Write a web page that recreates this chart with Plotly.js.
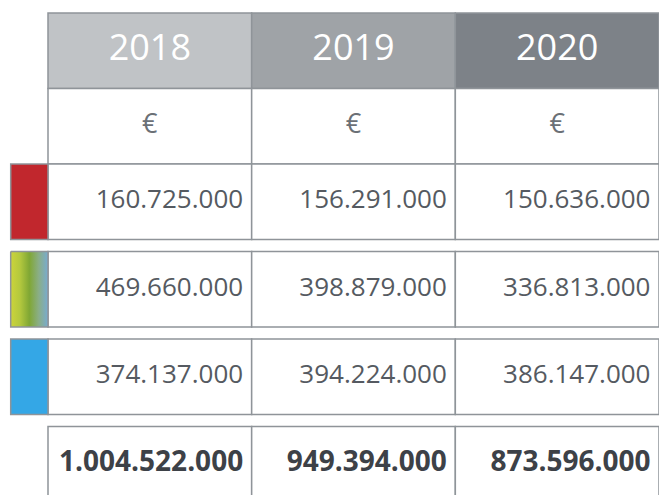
<!DOCTYPE html>
<html><head><meta charset="utf-8">
<script src="https://cdn.plot.ly/plotly-3.0.1.min.js"></script>
<style>html,body{margin:0;padding:0;background:#fff}</style>
</head><body><div id="chart" style="width:659px;height:495px"></div>
<script>
// ---- data ----
const years = ['2018', '2019', '2020'];
const unitLabel = '€';
const redValues = [160725000, 156291000, 150636000];
const greenValues = [469660000, 398879000, 336813000];
const blueValues = [374137000, 394224000, 386147000];
const totalValues = [1004522000, 949394000, 873596000];

// ---- layout / style constants ----
const W = 659, H = 495;
const TABLE_LEFT = 48, SWATCH_LEFT = 10.7;
const ROW_H = 75.5, GAP = 12, TOP = 13;
const COL_W = (W - TABLE_LEFT) / years.length;
const X_MIN = -0.5 - TABLE_LEFT / COL_W;
const PAD = 8.5 / COL_W;
const BORDER = '#8f9499';
const FONT = 'Open Sans, Noto Sans, sans-serif';
const headerFills = ['#c0c3c6', '#9fa3a7', '#7d8288'];
const numColor = '#555a61';

const rowKeys = ['header', 'unit', 'red', 'green', 'blue', 'total'];
const gapBefore = [0, 0, 0, 1, 1, 1];
const tops = {};
let cur = TOP;
rowKeys.forEach((k, i) => { cur += gapBefore[i] * GAP; tops[k] = cur; cur += ROW_H; });
const mid = k => tops[k] + ROW_H / 2;

const fmt = n => String(n).replace(/\B(?=(\d{3})+(?!\d))/g, '.');
const colIdx = years.map((_, i) => i);
const rightX = colIdx.map(i => i + 0.5 - PAD);

const traces = [];
function cellBar(key, fills) {
  traces.push({
    type: 'bar', x: colIdx, y: colIdx.map(() => ROW_H), base: colIdx.map(() => tops[key]),
    width: colIdx.map(() => 1),
    marker: { color: fills, line: { color: BORDER, width: 1.5 } },
    hoverinfo: 'skip', showlegend: false
  });
}
function textRow(key, xs, texts, pos, font) {
  traces.push({
    type: 'scatter', mode: 'text', x: xs, y: xs.map(() => mid(key)), text: texts,
    textposition: pos, textfont: font, hoverinfo: 'skip', showlegend: false, cliponaxis: false
  });
}
cellBar('header', headerFills);
cellBar('unit', colIdx.map(() => '#ffffff'));
cellBar('red', colIdx.map(() => '#ffffff'));
cellBar('green', colIdx.map(() => '#ffffff'));
cellBar('blue', colIdx.map(() => '#ffffff'));
cellBar('total', colIdx.map(() => '#ffffff'));

// swatches
const swL = X_MIN + SWATCH_LEFT / COL_W, swR = -0.5;
function swatchBar(key, color) {
  traces.push({
    type: 'bar', x: [(swL + swR) / 2], y: [ROW_H], base: [tops[key]], width: [swR - swL],
    marker: { color: color, line: { color: BORDER, width: 1.5 } },
    hoverinfo: 'skip', showlegend: false
  });
}
swatchBar('red', '#c1272d');
swatchBar('blue', '#34a7e6');
traces.push({
  type: 'scatter', mode: 'lines',
  x: [swL, swR, swR, swL, swL],
  y: [tops.green, tops.green, tops.green + ROW_H, tops.green + ROW_H, tops.green],
  fill: 'toself',
  fillgradient: { type: 'horizontal', colorscale: [[0, '#ccd43a'], [0.25, '#b3c83e'], [0.5, '#80a734'], [0.75, '#8aae86'], [1, '#78abd0']] },
  line: { color: BORDER, width: 1.5 },
  hoverinfo: 'skip', showlegend: false
});

// texts
textRow('header', colIdx, years, 'middle center', { family: FONT, size: 36, color: '#ffffff' });
textRow('unit', colIdx, colIdx.map(() => unitLabel), 'middle center', { family: FONT, size: 27, color: '#6b7076' });
textRow('red', rightX, redValues.map(fmt), 'middle left', { family: FONT, size: 26, color: numColor });
textRow('green', rightX, greenValues.map(fmt), 'middle left', { family: FONT, size: 26, color: numColor });
textRow('blue', rightX, blueValues.map(fmt), 'middle left', { family: FONT, size: 26, color: numColor });
textRow('total', rightX, totalValues.map(fmt), 'middle left', { family: FONT, size: 28, color: '#3d4147', weight: 'bold' });

const layout = {
  width: W, height: H, margin: { l: 0, r: 0, t: 0, b: 0 },
  paper_bgcolor: '#ffffff', plot_bgcolor: '#ffffff',
  barmode: 'overlay', showlegend: false,
  xaxis: { domain: [0, 1], range: [X_MIN, 2.5], visible: false, fixedrange: true },
  yaxis: { domain: [0, 1], range: [H, 0], visible: false, fixedrange: true },
  hovermode: false
};
Plotly.newPlot('chart', traces, layout, { displayModeBar: false, staticPlot: true });
</script>
</body></html>
